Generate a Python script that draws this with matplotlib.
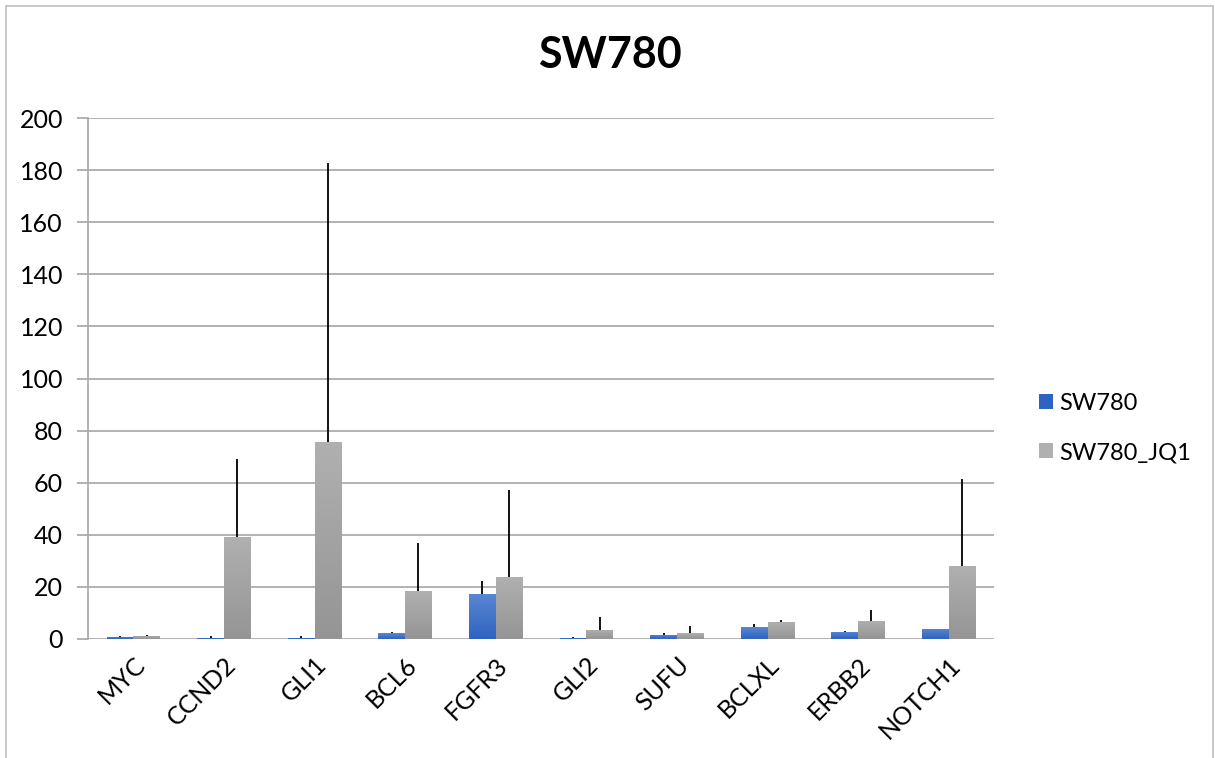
import numpy as np
import matplotlib.pyplot as plt
from matplotlib.patches import Rectangle

genes = ["MYC", "CCND2", "GLI1", "BCL6", "FGFR3", "GLI2", "SUFU", "BCLXL", "ERBB2", "NOTCH1"]
sw780 = [0.9, 0.5, 0.5, 2.3, 17.4, 0.5, 1.6, 4.6, 2.7, 3.9]
sw780_err = [0.2, 0.8, 0.6, 0.4, 4.8, 0.1, 0.7, 1.0, 0.2, 0.1]
sw780_jq1 = [1.2, 39.3, 75.8, 18.4, 23.9, 3.6, 2.2, 6.5, 7.0, 28.1]
sw780_jq1_err = [0.3, 29.8, 106.9, 18.5, 33.3, 4.8, 2.8, 0.9, 4.3, 33.4]

BLUE_TOP, BLUE_BOT = "#5b87d2", "#2f63c1"
GREY_TOP, GREY_BOT = "#b0b0b0", "#959595"

plt.rcParams["font.family"] = ["Lato", "DejaVu Sans"]


def gradient_bars(ax, bars, top, bottom):
    # vertical gradient clipped to each bar
    c1 = np.array(plt.matplotlib.colors.to_rgb(top))
    c2 = np.array(plt.matplotlib.colors.to_rgb(bottom))
    t = np.linspace(0, 1, 64)[:, None]
    img = (c1 * (1 - t) + c2 * t)[:, None, :]
    for b in bars:
        x0, y0 = b.get_x(), b.get_y()
        w, h = b.get_width(), b.get_height()
        im = ax.imshow(img, extent=[x0, x0 + w, y0, y0 + h], aspect="auto",
                       origin="upper", zorder=2)
        im.set_clip_path(b)
        b.set_facecolor("none")


fig = plt.figure(figsize=(12.15, 7.58), dpi=100)
fig.patches.append(Rectangle((6 / 1215, -0.1), 1207 / 1215, 1.1 - 6 / 758,
                             transform=fig.transFigure, fill=False,
                             edgecolor="#bfbfbf", linewidth=1.2))

ax = fig.add_axes([88 / 1215, 1 - 639 / 758, (994 - 88) / 1215, (639 - 118) / 758])

x = np.arange(len(genes))
w = 0.295
b1 = ax.bar(x - w / 2, sw780, w, zorder=2, linewidth=0)
b2 = ax.bar(x + w / 2, sw780_jq1, w, zorder=2, linewidth=0)
gradient_bars(ax, b1, BLUE_TOP, BLUE_BOT)
gradient_bars(ax, b2, GREY_TOP, GREY_BOT)

ax.errorbar(x - w / 2, sw780, yerr=[np.zeros(len(genes)), sw780_err], fmt="none",
            ecolor="black", elinewidth=1.3, capsize=0, zorder=3)
ax.errorbar(x + w / 2, sw780_jq1, yerr=[np.zeros(len(genes)), sw780_jq1_err], fmt="none",
            ecolor="black", elinewidth=1.3, capsize=0, zorder=3)

ax.set_xlim(-0.5, len(genes) - 0.5)
ax.set_ylim(0, 200)
ax.set_yticks(np.arange(0, 201, 20))
ax.yaxis.grid(True, color="#a6a6a6", linewidth=1.2)
ax.set_axisbelow(True)
for s in ["top", "right", "bottom"]:
    ax.spines[s].set_visible(False)
ax.spines["left"].set_color("#a6a6a6")
ax.spines["left"].set_linewidth(1.2)
ax.tick_params(axis="y", length=8, color="#a6a6a6", width=1.2, labelsize=18, pad=10)
ax.tick_params(axis="x", length=0, labelsize=18, pad=10)
ax.set_xticks(x)
ax.set_xticklabels(genes, rotation=45, ha="right", rotation_mode="anchor")

fig.text(610 / 1215, 1 - 55 / 758, "SW780", ha="center", va="center",
         fontsize=31, fontweight="bold")

# legend
h1 = Rectangle((0, 0), 1, 1, facecolor=BLUE_BOT)
h2 = Rectangle((0, 0), 1, 1, facecolor=GREY_TOP)
fig.legend([h1, h2], ["SW780", "SW780_JQ1"], loc="center left",
           bbox_to_anchor=(1018 / 1215, 1 - 428 / 758), frameon=False,
           fontsize=17, handlelength=0.6, handleheight=0.6, handletextpad=0.25,
           labelspacing=1.2)

fig.savefig("out.png", dpi=100)
